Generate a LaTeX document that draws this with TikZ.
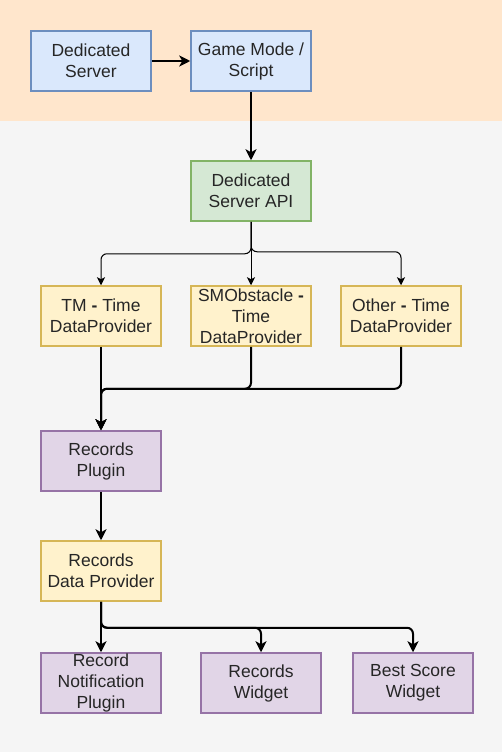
\documentclass[tikz,border=0pt]{standalone}
\usepackage{fontspec}
\setmainfont{Liberation Sans}
\usetikzlibrary{arrows.meta}
\definecolor{bandorange}{HTML}{FFE6CC}
\definecolor{bandgray}{HTML}{F5F5F5}
\definecolor{bluefill}{HTML}{DAE8FC}
\definecolor{bluedraw}{HTML}{6C8EBF}
\definecolor{greenfill}{HTML}{D5E8D4}
\definecolor{greendraw}{HTML}{82B366}
\definecolor{yellowfill}{HTML}{FFF2CC}
\definecolor{yellowdraw}{HTML}{D6B656}
\definecolor{purplefill}{HTML}{E1D5E7}
\definecolor{purpledraw}{HTML}{9673A6}
\tikzset{
  box/.style={rectangle, minimum width=120pt, minimum height=60pt, inner sep=0pt,
    align=center, line width=1.5pt, font=\fontsize{17.5}{21}\selectfont, text=black!85},
  bluebox/.style={box, fill=bluefill, draw=bluedraw},
  greenbox/.style={box, fill=greenfill, draw=greendraw},
  yellowbox/.style={box, fill=yellowfill, draw=yellowdraw},
  purplebox/.style={box, fill=purplefill, draw=purpledraw},
  thickconn/.style={line width=2pt, rounded corners=6pt, -{Stealth[length=11pt,width=11pt,inset=3pt]}},
  thinconn/.style={line width=1pt, rounded corners=6pt, -{Stealth[length=8pt,width=8pt,inset=2pt]}}
}
\begin{document}
\begin{tikzpicture}[x=1pt,y=-1pt]
\useasboundingbox (0,0) rectangle (502,752);
\fill[bandgray] (0,0) rectangle (502,752);
\fill[bandorange] (0,0) rectangle (502,121);

\node[bluebox] (ds) at (91,61) {Dedicated\\Server};
\node[bluebox] (gm) at (251,61) {Game Mode /\\Script};
\node[greenbox] (api) at (251,191) {Dedicated\\Server API};
\node[yellowbox] (tm) at (101,316) {TM \textbf{-} Time\\DataProvider};
\node[yellowbox] (smo) at (251,316) {SMObstacle \textbf{-}\\Time\\DataProvider};
\node[yellowbox] (oth) at (401,316) {Other \textbf{-} Time\\DataProvider};
\node[purplebox] (rp) at (101,461) {Records\\Plugin};
\node[yellowbox] (rdp) at (101,571) {Records\\Data Provider};
\node[purplebox] (rnp) at (101,683) {Record\\Notification\\Plugin};
\node[purplebox] (rw) at (261,683) {Records\\Widget};
\node[purplebox] (bsw) at (413,683) {Best Score\\Widget};

\draw[thickconn] (ds) -- (gm);
\draw[thickconn] (gm) -- (api);

\draw[thinconn] (api.south) -- ++(0,32) -| (tm.north);
\draw[thinconn] (api.south) -- (smo.north);
\draw[thinconn] (api.south) -- ++(0,30) -| (oth.north);

\draw[thickconn] (tm) -- (rp);
\draw[thickconn] (smo.south) -- ++(0,42) -| (rp.north);
\draw[thickconn] (oth.south) -- ++(0,42) -| (rp.north);

\draw[thickconn] (rp) -- (rdp);

\draw[thickconn] (rdp) -- (rnp);
\draw[thickconn] (rdp.south) -- ++(0,26) -| (rw.north);
\draw[thickconn] (rdp.south) -- ++(0,26) -| (bsw.north);
\end{tikzpicture}
\end{document}
